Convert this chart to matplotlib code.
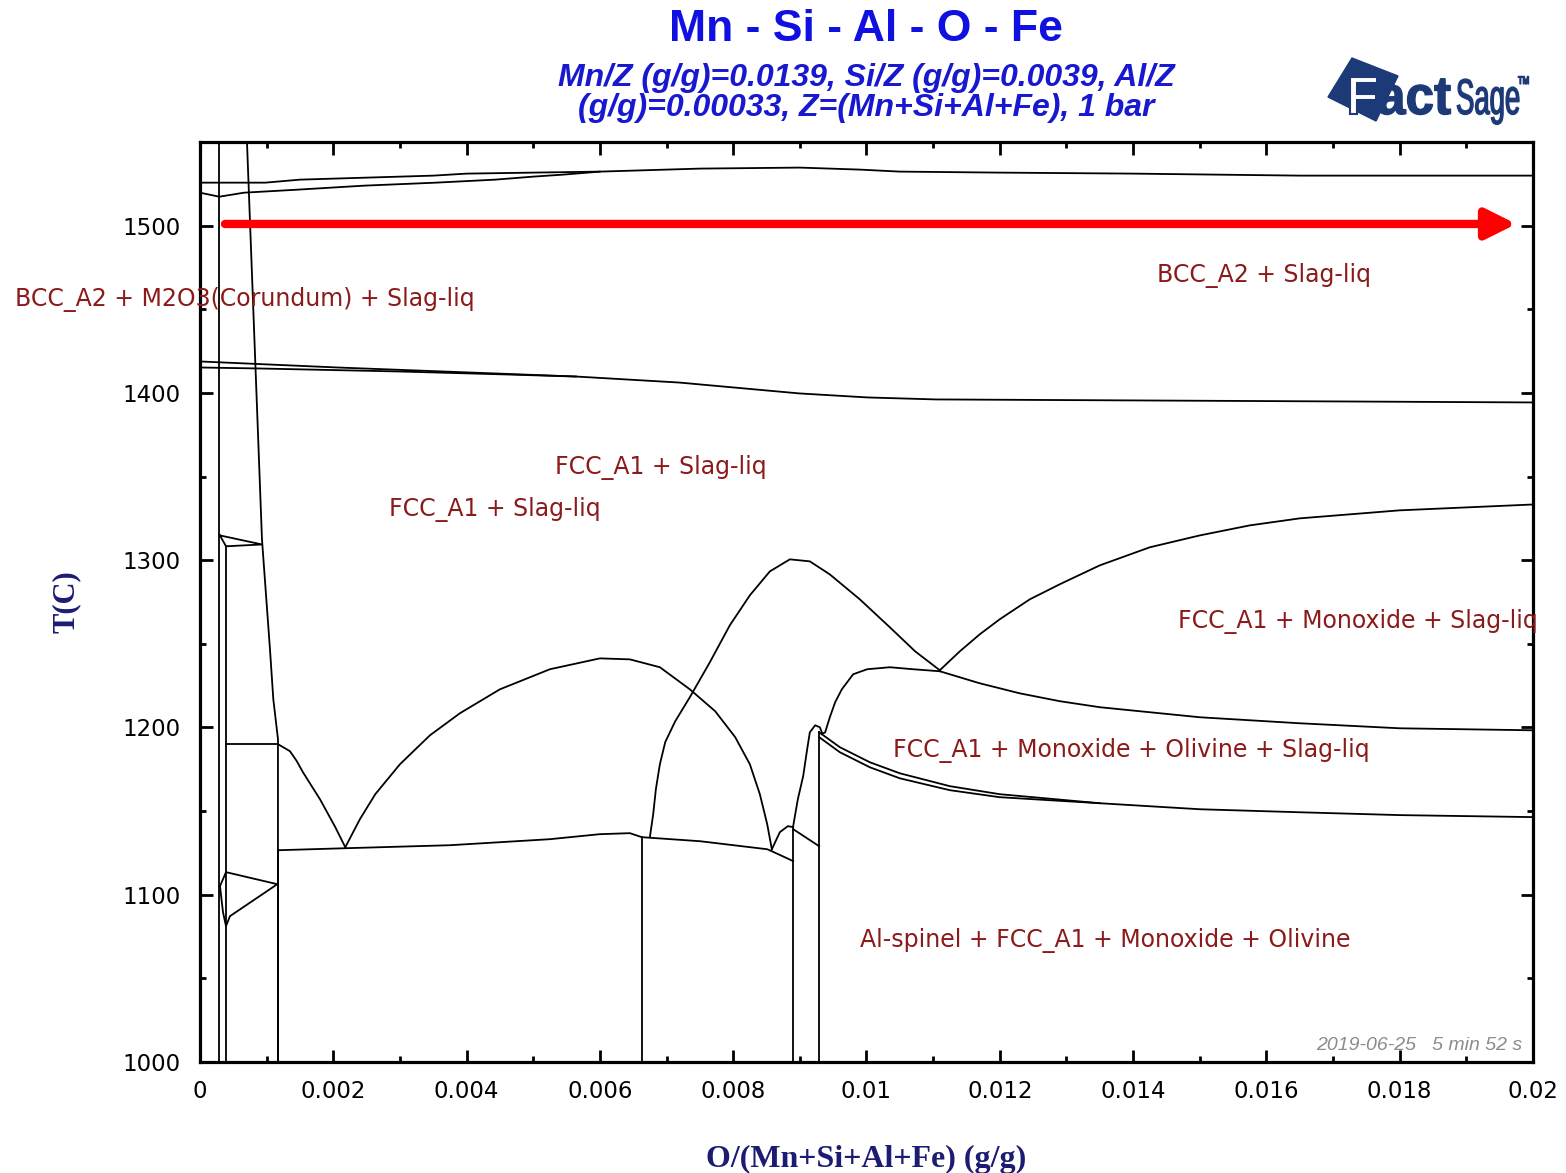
import matplotlib

matplotlib.use("Agg")

import matplotlib.pyplot as plt
from matplotlib.font_manager import FontProperties
from matplotlib.patches import PathPatch, Polygon
from matplotlib.textpath import TextPath
from matplotlib.ticker import FuncFormatter, MultipleLocator
from matplotlib.transforms import Affine2D

# phase boundaries, x = O/(Mn+Si+Al+Fe) (g/g), T in C
top_upper_x = [0, 0.00098, 0.0015, 0.0025, 0.0035, 0.004, 0.005, 0.006, 0.0065,
               0.0075, 0.009, 0.0099, 0.0105, 0.012, 0.014, 0.0165, 0.02]
top_upper_T = [1525.7, 1525.7, 1527.5, 1528.7, 1529.9, 1531.1, 1531.7, 1532.3, 1532.9,
               1534.1, 1534.7, 1533.5, 1532.3, 1531.7, 1531.1, 1529.9, 1529.9]
top_lower_x = [0, 0.00029, 0.00066, 0.00146, 0.00246, 0.00354, 0.00443, 0.005, 0.00545, 0.006]
top_lower_T = [1519.7, 1517.3, 1519.7, 1521.5, 1523.9, 1525.7, 1527.5, 1529.3, 1530.5, 1532.3]

fcc_upper_x = [0, 0.00206, 0.00564, 0.00719, 0.00899, 0.01001, 0.01104, 0.01708, 0.02]
fcc_upper_T = [1418.8, 1415.2, 1409.8, 1406.2, 1399.7, 1397.3, 1396.1, 1394.9, 1394.3]
fcc_lower_x = [0, 0.0009, 0.003, 0.00462, 0.00564]
fcc_lower_T = [1415.2, 1414.6, 1412.8, 1411.0, 1409.8]

left_x = [0.00029, 0.00029]
left_T = [1000, 1550]
steep_x = [0.000705, 0.00093, 0.00105, 0.0011, 0.00117, 0.00117]
steep_T = [1550, 1312.4, 1246.7, 1216.9, 1193.0, 1000]
inner_x = [0.00039, 0.00039]
inner_T = [1000, 1308.3]

tri_top_x = [0.0003, 0.00093, 0.00039, 0.0003]
tri_top_T = [1314.8, 1309.4, 1308.3, 1314.8]

shelf_x = [0.00039, 0.00117]
shelf_T = [1190, 1190]

drop_x = [0.00117, 0.00135, 0.00145, 0.001545, 0.0018, 0.00203, 0.00218]
drop_T = [1190, 1185.8, 1180.0, 1173.2, 1157.1, 1140.4, 1128.4]

dome_x = [0.00218, 0.0024, 0.00263, 0.003, 0.00345, 0.0039, 0.0045, 0.00525, 0.006,
          0.00645, 0.0069, 0.00735, 0.00773, 0.00803, 0.00825, 0.0084, 0.00851, 0.00858]
dome_T = [1128.4, 1145.2, 1160.1, 1178.0, 1195.3, 1208.5, 1222.8, 1234.8, 1241.3,
          1240.7, 1236.0, 1222.8, 1209.7, 1194.2, 1178.0, 1160.1, 1142.2, 1127.2]

eut_x = [0.00117, 0.00218, 0.00375, 0.00525, 0.006, 0.00645, 0.00663, 0.0075,
         0.00851, 0.00858, 0.0089]
eut_T = [1126.6, 1127.8, 1129.6, 1133.2, 1136.2, 1136.8, 1134.4, 1132.0,
         1127.2, 1126.0, 1120.1]

peak_x = [0.00675, 0.0068, 0.00684, 0.0069, 0.00698, 0.00713, 0.00735, 0.00765, 0.00795,
          0.00825, 0.00855, 0.00885, 0.00915, 0.00945, 0.0099, 0.01035, 0.01073, 0.0111]
peak_T = [1134.4, 1148.2, 1163.1, 1178.0, 1191.2, 1203.7, 1218.1, 1239.0, 1261.1,
          1279.0, 1293.3, 1300.5, 1299.3, 1291.5, 1276.6, 1259.9, 1245.5, 1234.2]

hump_x = [0.00858, 0.0087, 0.00882, 0.0089]
hump_T = [1127.2, 1137.4, 1141.0, 1140.4]
tie_x = [0.0089, 0.00929]
tie_T = [1139.2, 1129.0]

spike_x = [0.0089, 0.00897, 0.00905, 0.00911, 0.00915, 0.00923, 0.0093, 0.00933]
spike_T = [1141.0, 1157.1, 1170.9, 1187.0, 1197.1, 1201.3, 1200.1, 1197.1]

knee_x = [0.00933, 0.00938, 0.00945, 0.00953, 0.00963, 0.0098, 0.01001, 0.01035, 0.0107, 0.0111]
knee_T = [1196.0, 1197.1, 1206.1, 1215.1, 1222.8, 1231.8, 1234.8, 1236.0, 1234.8, 1233.6]

mono_low_x = [0.0111, 0.0117, 0.0123, 0.0129, 0.0135, 0.015, 0.0165, 0.018, 0.02]
mono_low_T = [1233.6, 1226.4, 1220.4, 1215.7, 1212.1, 1206.1, 1202.5, 1199.5, 1198.3]

mono_high_x = [0.0111, 0.0114, 0.0117, 0.012, 0.01245, 0.0129, 0.0135, 0.01425, 0.015,
               0.01575, 0.0165, 0.018, 0.02]
mono_high_T = [1234.2, 1245.5, 1255.7, 1264.7, 1276.6, 1285.6, 1296.9, 1307.7, 1314.8,
               1320.8, 1325.0, 1329.8, 1333.3]

oliv_a_x = [0.00929, 0.0096, 0.01005, 0.0105, 0.01125, 0.012, 0.0135, 0.015, 0.0165, 0.018, 0.02]
oliv_a_T = [1197.1, 1188.2, 1179.2, 1172.6, 1164.9, 1160.1, 1154.7, 1151.1, 1149.3, 1147.6, 1146.4]
oliv_b_x = [0.00929, 0.0096, 0.01005, 0.0105, 0.01125, 0.012, 0.0135]
oliv_b_T = [1194.2, 1185.2, 1176.2, 1169.6, 1162.5, 1158.3, 1154.7]

verticals_x = [0.00117, 0.00663, 0.0089, 0.00929]
verticals_top = [1126.6, 1134.4, 1140.4, 1197.1]

low_tri_x = [0.0003, 0.00039, 0.00116, 0.00045, 0.00039, 0.000345, 0.0003]
low_tri_T = [1105.1, 1113.5, 1106.3, 1087.2, 1081.2, 1089.6, 1105.1]

arrow_x = [0.000375, 0.01975]
arrow_T = [1501, 1501]

region_labels = [
    "BCC_A2 + M2O3(Corundum) + Slag-liq",
    "BCC_A2 + Slag-liq",
    "FCC_A1 + Slag-liq",
    "FCC_A1 + Slag-liq",
    "FCC_A1 + Monoxide + Slag-liq",
    "FCC_A1 + Monoxide + Olivine + Slag-liq",
    "Al-spinel + FCC_A1 + Monoxide + Olivine",
]
label_x = [-0.00278, 0.01436, 0.00533, 0.00284, 0.01467, 0.0104, 0.0099]
label_T = [1455.8, 1470.2, 1355.5, 1330.4, 1263.5, 1186.4, 1072.9]

fig = plt.figure(figsize=(15.66, 11.73), dpi=100)
ax = fig.add_axes([0.12771, 0.09463, 0.85121, 0.78431])

curves = [
    (top_upper_x, top_upper_T), (top_lower_x, top_lower_T),
    (fcc_upper_x, fcc_upper_T), (fcc_lower_x, fcc_lower_T),
    (left_x, left_T), (steep_x, steep_T), (inner_x, inner_T),
    (tri_top_x, tri_top_T), (shelf_x, shelf_T), (drop_x, drop_T),
    (dome_x, dome_T), (eut_x, eut_T), (peak_x, peak_T),
    (hump_x, hump_T), (tie_x, tie_T), (spike_x, spike_T),
    (knee_x, knee_T), (mono_low_x, mono_low_T), (mono_high_x, mono_high_T),
    (oliv_a_x, oliv_a_T), (oliv_b_x, oliv_b_T), (low_tri_x, low_tri_T),
]
for xs, ts in curves:
    ax.plot(xs, ts, color="black", lw=1.3)

for xv, tv in zip(verticals_x, verticals_top):
    ax.plot([xv, xv], [1000, tv], color="black", lw=1.3)

ax.annotate(
    "",
    xy=(arrow_x[1], arrow_T[1]),
    xytext=(arrow_x[0], arrow_T[0]),
    arrowprops=dict(arrowstyle="-|>", color="#ff0000", lw=6, mutation_scale=45,
                    shrinkA=0, shrinkB=0),
)

for text, xv, tv in zip(region_labels, label_x, label_T):
    ax.text(xv, tv, text, color="#8b1a1a", fontsize=17, ha="left", va="center",
            clip_on=False)

ax.text(0.01984, 1010, "2019-06-25   5 min 52 s", color="#8c8c8c", fontsize=14,
        style="italic", family="Liberation Sans", ha="right", va="center")

ax.set_xlim(0, 0.02)
ax.set_ylim(1000, 1550)
ax.xaxis.set_major_locator(MultipleLocator(0.002))
ax.xaxis.set_minor_locator(MultipleLocator(0.001))
ax.yaxis.set_major_locator(MultipleLocator(100))
ax.yaxis.set_minor_locator(MultipleLocator(50))
ax.xaxis.set_major_formatter(FuncFormatter(lambda v, p: f"{v:g}"))

ax.tick_params(which="both", direction="in", top=True, right=True, width=2,
               colors="black")
ax.tick_params(which="major", length=9, labelsize=16.5)
ax.tick_params(which="minor", length=4.5)
ax.tick_params(axis="x", pad=13)
ax.tick_params(axis="y", pad=14)
for spine in ax.spines.values():
    spine.set_linewidth(2.3)

ax.set_xlabel("O/(Mn+Si+Al+Fe) (g/g)", family="Liberation Serif", fontweight="bold",
              fontsize=23, color="#1c1c72", labelpad=30)
ax.set_ylabel("T(C)", family="Liberation Serif", fontweight="bold",
              fontsize=22, color="#1c1c72", labelpad=30)

fig.text(0.553, 0.975, "Mn - Si - Al - O - Fe", family="Liberation Sans",
         fontweight="bold", fontsize=32, color="#1010e0", ha="center", va="center")
fig.text(0.553, 0.9205, "Mn/Z (g/g)=0.0139, Si/Z (g/g)=0.0039, Al/Z\n"
         "(g/g)=0.00033, Z=(Mn+Si+Al+Fe), 1 bar", family="Liberation Sans",
         fontweight="bold", style="italic", fontsize=23, color="#1818d0",
         ha="center", va="center", linespacing=1.0)

# FactSage logo, drawn in pixel units
W, H = 1566, 1173
navy = "#1d3a78"
square = [(1328, 97), (1352, 58), (1398, 76), (1376, 121)]
fig.patches.append(Polygon([(px / W, 1 - py / H) for px, py in square], closed=True,
                           transform=fig.transFigure, color=navy, zorder=1))

bold = FontProperties(family="Liberation Sans", weight="bold")
plain = FontProperties(family="Liberation Sans")
f_path = TextPath((0, 0), "F", size=54, prop=bold)
act_path = TextPath((0, 0), "act", size=54, prop=bold)
sage_path = TextPath((0, 0), "Sage", size=50, prop=plain)
tm_path = TextPath((0, 0), "TM", size=11, prop=plain)

fig.add_artist(PathPatch(f_path, facecolor="white", edgecolor=navy, lw=1.5, zorder=3,
                         transform=Affine2D().translate(1346, H - 114)))
fig.add_artist(PathPatch(act_path, color=navy, zorder=3,
                         transform=Affine2D().scale(0.95, 1).translate(1377, H - 114)))
fig.add_artist(PathPatch(sage_path, color=navy, zorder=3,
                         transform=Affine2D().scale(0.55, 1).translate(1456, H - 114)))
fig.add_artist(PathPatch(tm_path, color=navy, zorder=3,
                         transform=Affine2D().scale(0.7, 1).translate(1518, H - 84)))

fig.savefig("out.png", dpi=100)
plt.close(fig)
